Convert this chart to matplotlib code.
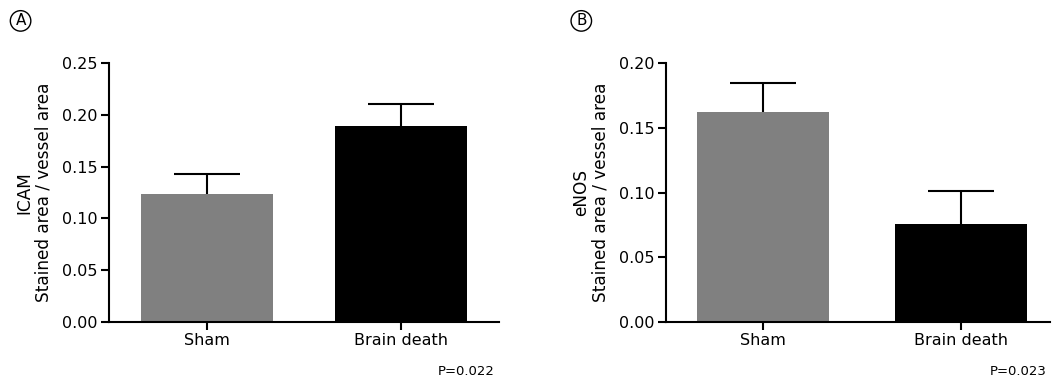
import numpy as np
import matplotlib.pyplot as plt

groups = ["Sham", "Brain death"]
icam_mean = [0.1236, 0.189]
icam_sem = [0.0194, 0.0214]
enos_mean = [0.162, 0.0756]
enos_sem = [0.0226, 0.0254]
bar_colors = ["#808080", "#000000"]

plt.rcParams["font.family"] = "DejaVu Sans"

fig = plt.figure(figsize=(10.55, 3.8), dpi=100)
axA = fig.add_axes([0.1033, 0.1526, 0.3697, 0.6816])
axB = fig.add_axes([0.6313, 0.1526, 0.3640, 0.6816])


def draw_panel(ax, means, sems, ymax, yticks, ylabel, xlim, width, pval, letter, letter_x):
    x = np.arange(len(groups))
    means = np.array(means)
    sems = np.array(sems)
    ax.bar(x, means, width=width, color=bar_colors, zorder=2)
    # upward-only error bars (stem + top cap)
    ax.vlines(x, means, means + sems, colors="black", linewidth=1.5, zorder=1)
    ax.hlines(means + sems, x - width / 4, x + width / 4, colors="black", linewidth=1.5, zorder=1)
    ax.set_xlim(*xlim)
    ax.set_ylim(0, ymax)
    ax.set_yticks(yticks)
    ax.set_yticklabels(["%.2f" % t for t in yticks])
    ax.set_xticks(x)
    ax.set_xticklabels(groups)
    for s in ["top", "right"]:
        ax.spines[s].set_visible(False)
    for s in ["left", "bottom"]:
        ax.spines[s].set_linewidth(1.5)
    ax.tick_params(axis="both", width=1.5, length=6, labelsize=11.5, pad=2)
    ax.set_ylabel(ylabel, fontsize=12.2, linespacing=1.1, labelpad=7)
    ax.text(0.99, -0.19, pval, transform=ax.transAxes, ha="right", va="center", fontsize=9.5)
    fig.text(letter_x, 0.945, letter, ha="center", va="center", fontsize=11,
             bbox=dict(boxstyle="circle,pad=0.18", fc="white", ec="black", lw=1))


draw_panel(axA, icam_mean, icam_sem, 0.25, [0, 0.05, 0.10, 0.15, 0.20, 0.25],
           "ICAM\nStained area / vessel area", (-0.505, 1.505), 0.68, "P=0.022", "A", 0.0195)
draw_panel(axB, enos_mean, enos_sem, 0.20, [0, 0.05, 0.10, 0.15, 0.20],
           "eNOS\nStained area / vessel area", (-0.49, 1.45), 0.667, "P=0.023", "B", 0.551)

fig.savefig("out.png", dpi=100)
